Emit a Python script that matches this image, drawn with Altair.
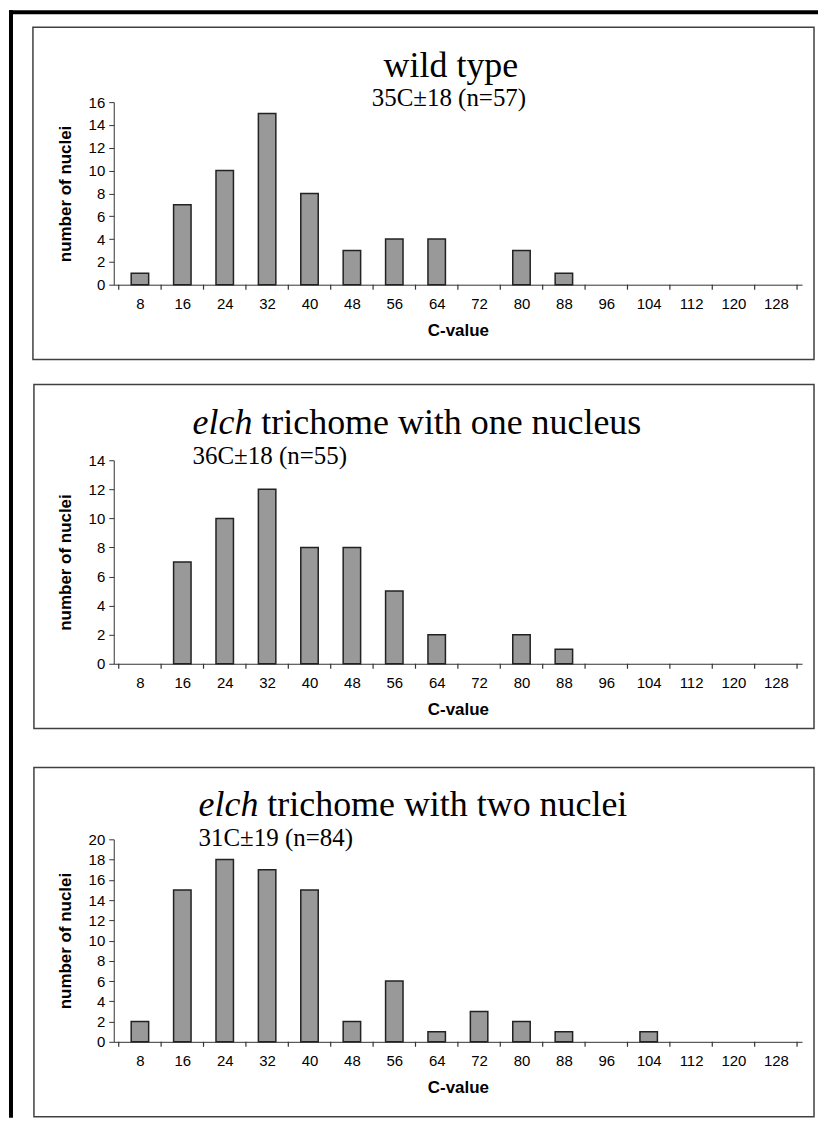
import altair as alt
import pandas as pd

# ---- data ----
c_values = [8, 16, 24, 32, 40, 48, 56, 64, 72, 80, 88, 96, 104, 112, 120, 128]
bin_edges = [4, 12, 20, 28, 36, 44, 52, 60, 68, 76, 84, 92, 100, 108, 116, 124, 132]
wild_type = [1, 7, 10, 15, 8, 3, 4, 4, 0, 3, 1, 0, 0, 0, 0, 0]
one_nucleus = [0, 7, 10, 12, 8, 8, 5, 2, 0, 2, 1, 0, 0, 0, 0, 0]
two_nuclei = [2, 15, 18, 17, 15, 2, 6, 1, 3, 2, 1, 0, 1, 0, 0, 0]

titles_italic = ["", "elch", "elch"]
titles_rest = ["wild type", "trichome with one nucleus", "trichome with two nuclei"]
subtitles = ["35C\u00b118 (n=57)", "36C\u00b118 (n=55)", "31C\u00b119 (n=84)"]
y_max = [16, 14, 20]

W = 690
SERIF = "Liberation Serif"
SANS = "Liberation Sans"
TFS = 36   # title font size
SFS = 25   # subtitle font size
AX = "#333333"


def one(value):
    return pd.DataFrame({"t": [value]})


def panel(counts, ymax, h, idx, title_x, title_y, sub_x, sub_y, box, seg, top_line=False):
    df = pd.DataFrame({"c": c_values, "n": counts})
    xenc = alt.X(
        "c:Q",
        scale=alt.Scale(domain=[bin_edges[0], bin_edges[-1]], nice=False, zero=False),
        axis=alt.Axis(values=c_values, title="C-value", ticks=False, tickSize=0,
                      labelPadding=12, titlePadding=11, domainColor=AX,
                      labelBaseline="top"),
    )
    yenc = alt.Y(
        "n:Q",
        scale=alt.Scale(domain=[0, ymax], nice=False),
        axis=alt.Axis(values=list(range(0, ymax + 1, 2)), title="number of nuclei",
                      tickSize=5, labelPadding=4, titlePadding=14, domainColor=AX,
                      tickColor=AX),
    )
    layers = []
    # panel frame
    layers.append(
        alt.Chart(one(0)).mark_rect(fill="white", fillOpacity=0, stroke="#404040", strokeWidth=1.5)
        .encode(x=alt.value(box[0]), x2=alt.value(box[1]), y=alt.value(box[2]), y2=alt.value(box[3]))
    )
    # thick outer border (left side, and top for first panel)
    layers.append(
        alt.Chart(one(0)).mark_rect(fill="black")
        .encode(x=alt.value(-105), x2=alt.value(-101), y=alt.value(seg[0]), y2=alt.value(seg[1]))
    )
    if top_line:
        layers.append(
            alt.Chart(one(0)).mark_rect(fill="black")
            .encode(x=alt.value(-105), x2=alt.value(706), y=alt.value(seg[0]), y2=alt.value(seg[0] + 4))
        )
    # bars
    layers.append(
        alt.Chart(df).transform_filter("datum.n > 0")
        .mark_bar(size=17.5, fill="#999999", stroke="#222222", strokeWidth=1.5)
        .encode(x=xenc, y=yenc)
    )
    # x ticks at bin edges
    layers.append(
        alt.Chart(pd.DataFrame({"c": bin_edges})).mark_rule(color=AX, strokeWidth=1.2)
        .encode(x=xenc, y=alt.value(h), y2=alt.value(h + 5))
    )
    # titles
    if titles_italic[idx]:
        italic_w = TFS * (0.444 + 0.278 + 0.444 + 0.500 + 0.250)
        layers.append(
            alt.Chart(one(titles_italic[idx])).mark_text(font=SERIF, fontSize=TFS, fontStyle="italic",
                                                         align="left", baseline="middle", color="black")
            .encode(text="t:N", x=alt.value(title_x), y=alt.value(title_y))
        )
        layers.append(
            alt.Chart(one(titles_rest[idx])).mark_text(font=SERIF, fontSize=TFS,
                                                       align="left", baseline="middle", color="black")
            .encode(text="t:N", x=alt.value(title_x + italic_w), y=alt.value(title_y))
        )
        layers.append(
            alt.Chart(one(subtitles[idx])).mark_text(font=SERIF, fontSize=SFS,
                                                     align="left", baseline="middle", color="black")
            .encode(text="t:N", x=alt.value(sub_x), y=alt.value(sub_y))
        )
    else:
        layers.append(
            alt.Chart(one(titles_rest[idx])).mark_text(font=SERIF, fontSize=TFS,
                                                       align="center", baseline="middle", color="black")
            .encode(text="t:N", x=alt.value(title_x), y=alt.value(title_y))
        )
        layers.append(
            alt.Chart(one(subtitles[idx])).mark_text(font=SERIF, fontSize=SFS,
                                                     align="center", baseline="middle", color="black")
            .encode(text="t:N", x=alt.value(sub_x), y=alt.value(sub_y))
        )
    return alt.layer(*layers).properties(width=W, height=h)


# plot tops (absolute): 100, 459, 839 ; flush layout with spacing 176
p1 = panel(wild_type, y_max[0], 183, 0, 338, -36, 336, -4,
           box=(-81, 702, -75, 258), seg=(-92, 285), top_line=True)
p2 = panel(one_nucleus, y_max[1], 204, 1, 79, -37, 79, -4,
           box=(-80, 702, -76, 269), seg=(-95, 300))
p3 = panel(two_nuclei, y_max[2], 203, 2, 85, -34, 85, -1,
           box=(-80, 702, -72, 278), seg=(-105, 279))

chart = (
    alt.vconcat(p1, p2, p3, spacing=176, bounds="flush")
    .properties(padding=0, background="white")
    .configure_view(stroke="transparent")
    .configure_axis(
        grid=False,
        labelFont=SANS, labelFontSize=15, labelColor="black",
        titleFont=SANS, titleFontSize=17, titleFontWeight="bold", titleColor="black",
    )
)

chart.save("out.html", embed_options={"renderer": "svg", "actions": False})
